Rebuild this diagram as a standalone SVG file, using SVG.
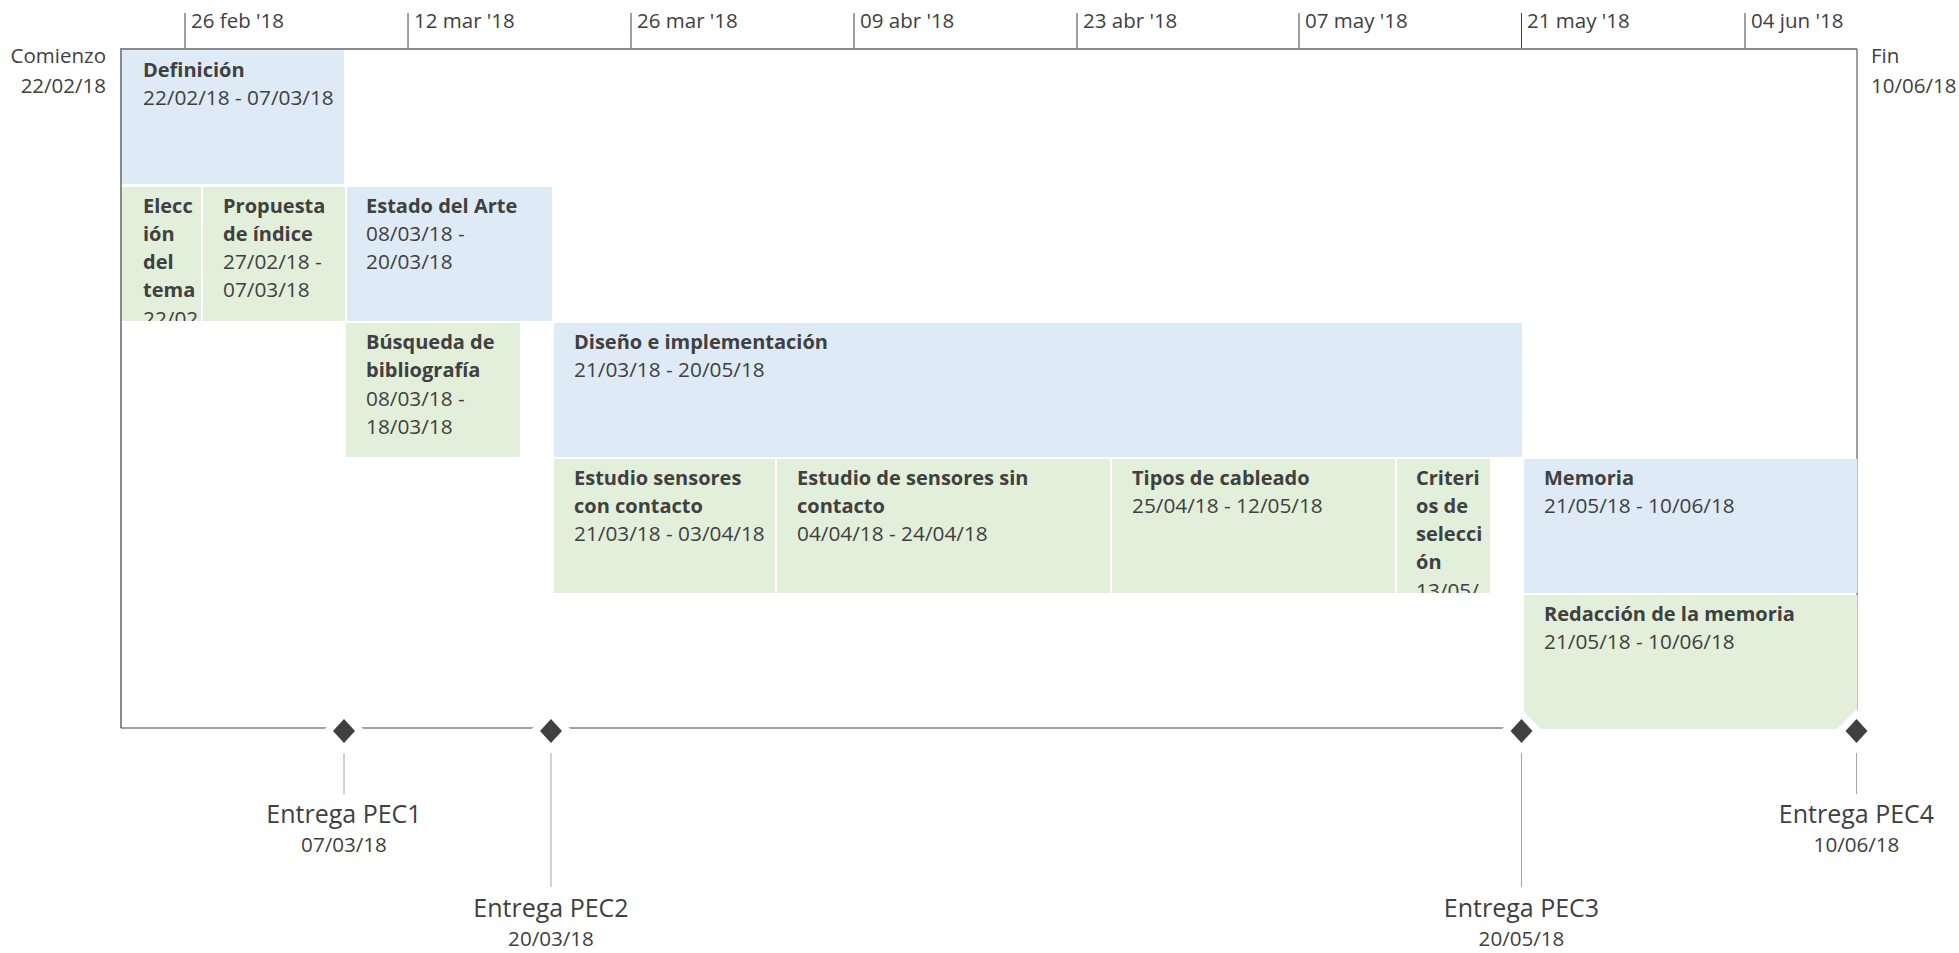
<svg xmlns="http://www.w3.org/2000/svg" width="1959" height="953" viewBox="0 0 1959 953">
<style>
text{font-family:"Open Sans","Noto Sans","Liberation Sans",sans-serif;fill:#404040;}
.t{font-size:20px;font-weight:700;}
.d{font-size:20.8px;}
.ax{font-size:20.5px;}
.ms{font-size:25px;text-anchor:middle;}
.md{font-size:20.6px;text-anchor:middle;}
.blue{fill:#DEEAF6;}
.green{fill:#E2EFDA;}
.tick{stroke:#404040;stroke-width:1;}
.frame{stroke:#8a8a8a;stroke-width:2;fill:none;}
.lead{stroke:#a6a6a6;stroke-width:1;}
</style>
<defs>
<clipPath id="cElec"><rect x="122" y="187" width="79" height="134"/></clipPath>
<clipPath id="cCrit"><rect x="1397" y="459" width="93" height="134"/></clipPath>
</defs>
<rect width="1959" height="953" fill="#ffffff"/>

<g id="axis">
<line class="tick" x1="185" y1="13" x2="185" y2="49"/><text class="ax" x="191" y="28">26 feb '18</text>
<line class="tick" x1="408" y1="13" x2="408" y2="49"/><text class="ax" x="414" y="28">12 mar '18</text>
<line class="tick" x1="631" y1="13" x2="631" y2="49"/><text class="ax" x="637" y="28">26 mar '18</text>
<line class="tick" x1="854" y1="13" x2="854" y2="49"/><text class="ax" x="860" y="28">09 abr '18</text>
<line class="tick" x1="1077" y1="13" x2="1077" y2="49"/><text class="ax" x="1083" y="28">23 abr '18</text>
<line class="tick" x1="1299" y1="13" x2="1299" y2="49"/><text class="ax" x="1305" y="28">07 may '18</text>
<line class="tick" x1="1521.5" y1="13" x2="1521.5" y2="49"/><text class="ax" x="1527" y="28">21 may '18</text>
<line class="tick" x1="1745" y1="13" x2="1745" y2="49"/><text class="ax" x="1751" y="28">04 jun '18</text>
<text class="ax" x="106" y="63" text-anchor="end">Comienzo</text>
<text class="ax" x="106" y="93" text-anchor="end">22/02/18</text>
<text class="ax" x="1871" y="63">Fin</text>
<text class="ax" x="1871" y="93">10/06/18</text>
</g>

<g id="frame">
<polyline class="frame" points="121,728 121,49 1857,49"/>
<line x1="1857" y1="49" x2="1857" y2="728" stroke="#404040" stroke-width="1"/>
<line x1="121" y1="728" x2="1857" y2="728" stroke="#404040" stroke-width="1"/>
</g>

<g id="definicion">
<rect class="blue" x="122" y="50" width="222" height="134"/>
<text class="t" x="143" y="77">Definición</text>
<text class="d" x="143" y="105">22/02/18 - 07/03/18</text>
</g>

<g id="eleccion">
<rect class="green" x="122" y="187" width="79" height="134"/>
<g clip-path="url(#cElec)">
<text class="t" x="143" y="213">Elecc</text>
<text class="t" x="143" y="241">ión</text>
<text class="t" x="143" y="269">del</text>
<text class="t" x="143" y="297">tema</text>
<text class="d" x="143" y="326">22/02</text>
</g>
</g>

<g id="propuesta">
<rect class="green" x="203" y="187" width="142" height="134"/>
<text class="t" x="223" y="213">Propuesta</text>
<text class="t" x="223" y="241">de índice</text>
<text class="d" x="223" y="269">27/02/18 -</text>
<text class="d" x="223" y="297">07/03/18</text>
</g>

<g id="estado">
<rect class="blue" x="347" y="187" width="205" height="134"/>
<text class="t" x="366" y="213">Estado del Arte</text>
<text class="d" x="366" y="241">08/03/18 -</text>
<text class="d" x="366" y="269">20/03/18</text>
</g>

<g id="busqueda">
<rect class="green" x="346" y="323" width="174" height="134"/>
<text class="t" x="366" y="349">Búsqueda de</text>
<text class="t" x="366" y="377">bibliografía</text>
<text class="d" x="366" y="406">08/03/18 -</text>
<text class="d" x="366" y="434">18/03/18</text>
</g>

<g id="diseno">
<rect class="blue" x="554" y="323" width="968" height="134"/>
<text class="t" x="574" y="349">Diseño e implementación</text>
<text class="d" x="574" y="377">21/03/18 - 20/05/18</text>
</g>

<g id="estudio-contacto">
<rect class="green" x="554" y="459" width="221" height="134"/>
<text class="t" x="574" y="485">Estudio sensores</text>
<text class="t" x="574" y="513">con contacto</text>
<text class="d" x="574" y="541">21/03/18 - 03/04/18</text>
</g>

<g id="estudio-sin-contacto">
<rect class="green" x="777" y="459" width="333" height="134"/>
<text class="t" x="797" y="485">Estudio de sensores sin</text>
<text class="t" x="797" y="513">contacto</text>
<text class="d" x="797" y="541">04/04/18 - 24/04/18</text>
</g>

<g id="tipos">
<rect class="green" x="1112" y="459" width="283" height="134"/>
<text class="t" x="1132" y="485">Tipos de cableado</text>
<text class="d" x="1132" y="513">25/04/18 - 12/05/18</text>
</g>

<g id="criterios">
<rect class="green" x="1397" y="459" width="93" height="134"/>
<g clip-path="url(#cCrit)">
<text class="t" x="1416" y="485">Criteri</text>
<text class="t" x="1416" y="513">os de</text>
<text class="t" x="1416" y="541">selecci</text>
<text class="t" x="1416" y="569">ón</text>
<text class="d" x="1416" y="598">13/05/</text>
</g>
</g>

<g id="memoria">
<rect class="blue" x="1524" y="459" width="333.5" height="134"/>
<text class="t" x="1544" y="485">Memoria</text>
<text class="d" x="1544" y="513">21/05/18 - 10/06/18</text>
</g>

<g id="redaccion">
<rect class="green" x="1524" y="595" width="333.5" height="134"/>
<text class="t" x="1544" y="621">Redacción de la memoria</text>
<text class="d" x="1544" y="649">21/05/18 - 10/06/18</text>
</g>

<g id="connectors">
<line class="lead" x1="344" y1="753" x2="344" y2="794"/>
<line class="lead" x1="551" y1="753" x2="551" y2="887"/>
<line class="lead" x1="1521.5" y1="753" x2="1521.5" y2="887"/>
<line class="lead" x1="1856.5" y1="753" x2="1856.5" y2="794"/>
</g>

<g id="pec1">
<polygon points="344,709.5 365.5,731 344,752.5 322.5,731" fill="#ffffff"/>
<polygon points="344,719 355,731 344,743 333,731" fill="#404040"/>
<text class="ms" x="344" y="823">Entrega PEC1</text>
<text class="md" x="344" y="852">07/03/18</text>
</g>
<g id="pec2">
<polygon points="551,709.5 572.5,731 551,752.5 529.5,731" fill="#ffffff"/>
<polygon points="551,719 562,731 551,743 540,731" fill="#404040"/>
<text class="ms" x="551" y="917">Entrega PEC2</text>
<text class="md" x="551" y="946">20/03/18</text>
</g>
<g id="pec3">
<polygon points="1521.5,709.5 1543,731 1521.5,752.5 1500,731" fill="#ffffff"/>
<polygon points="1521.5,719 1532.5,731 1521.5,743 1510.5,731" fill="#404040"/>
<text class="ms" x="1521.5" y="917">Entrega PEC3</text>
<text class="md" x="1521.5" y="946">20/05/18</text>
</g>
<g id="pec4">
<polygon points="1856.5,709.5 1878,731 1856.5,752.5 1835,731" fill="#ffffff"/>
<polygon points="1856.5,719 1867.5,731 1856.5,743 1845.5,731" fill="#404040"/>
<text class="ms" x="1856.5" y="823">Entrega PEC4</text>
<text class="md" x="1856.5" y="852">10/06/18</text>
</g>
</svg>
